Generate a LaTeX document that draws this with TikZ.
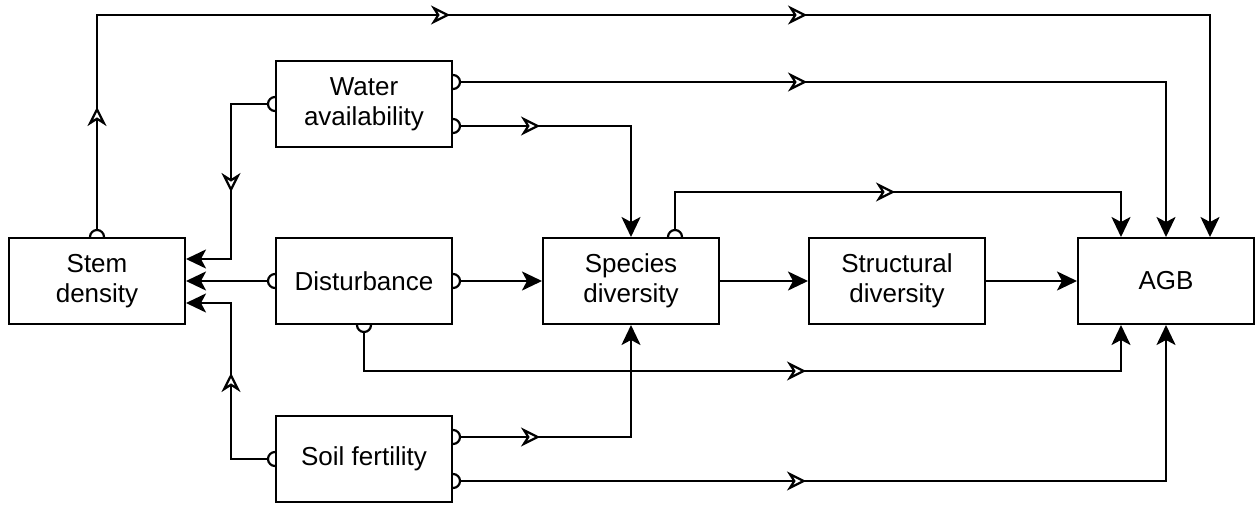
\documentclass[tikz,border=0pt]{standalone}
\usepackage{fontspec}
\setmainfont{Liberation Sans}
\usetikzlibrary{arrows.meta}
\begin{document}
\begin{tikzpicture}[x=1pt,y=-1pt,
  box/.style={draw,line width=2pt,minimum width=176pt,minimum height=86pt,align=center,
    font=\fontsize{26}{30}\selectfont,inner sep=0pt},
  conn/.style={line width=2.2pt,-{Stealth[length=20pt,width=19pt,inset=5pt]}},
  hc/.style={line width=2.2pt},
  oa/.style={line width=2.2pt,-{Stealth[open,fill=white,length=19pt,width=19pt,inset=6pt]}},
]
\useasboundingbox (0,0) rectangle (1260,506);
% nodes
\node[box] (sd)  at (97,281)  {Stem\\density};
\node[box] (wa)  at (364,104) {Water\\availability};
\node[box] (di)  at (364,281) {Disturbance};
\node[box] (sp)  at (631,281) {Species\\diversity};
\node[box] (st)  at (897,281) {Structural\\diversity};
\node[box] (agb) at (1166,281) {AGB};
\node[box] (sf)  at (364,459) {Soil fertility};
% start points (just outside the half circles)
\coordinate (s1) at (97,230);
\coordinate (s2) at (460,82);
\coordinate (s3) at (460,126);
\coordinate (s4) at (268,104);
\coordinate (s5) at (268,281);
\coordinate (s6) at (460,281);
\coordinate (s7) at (364,332);
\coordinate (s8) at (675,230);
\coordinate (s11) at (268,459);
\coordinate (s12) at (460,437);
\coordinate (s13) at (460,481);
% half circles
\draw[hc] (97,237) ++(7pt,0) arc[start angle=0,end angle=180,radius=7pt];
\draw[hc] (675,237) ++(7pt,0) arc[start angle=0,end angle=180,radius=7pt];
\draw[hc] (364,325) ++(-7pt,0) arc[start angle=180,end angle=360,radius=7pt];
\draw[hc] (453,82) ++(0,7pt) arc[start angle=90,end angle=-90,radius=7pt];
\draw[hc] (453,126) ++(0,7pt) arc[start angle=90,end angle=-90,radius=7pt];
\draw[hc] (453,281) ++(0,7pt) arc[start angle=90,end angle=-90,radius=7pt];
\draw[hc] (453,437) ++(0,7pt) arc[start angle=90,end angle=-90,radius=7pt];
\draw[hc] (453,481) ++(0,7pt) arc[start angle=90,end angle=-90,radius=7pt];
\draw[hc] (275,104) ++(0,7pt) arc[start angle=90,end angle=270,radius=7pt];
\draw[hc] (275,281) ++(0,7pt) arc[start angle=90,end angle=270,radius=7pt];
\draw[hc] (275,459) ++(0,7pt) arc[start angle=90,end angle=270,radius=7pt];
% connectors
\draw[conn] (s1) -- (97,15) -- (1210,15) -- (agb.north -| 1210,0);
\draw[conn] (s2) -- (1166,82) -- (agb.north);
\draw[conn] (s3) -- (631,126) -- (sp.north);
\draw[conn] (s4) -- (231,104) -- (231,259) -- (sd.east |- 0,259);
\draw[conn] (s5) -- (sd.east);
\draw[conn] (s6) -- (sp.west);
\draw[conn] (s7) -- (364,371) -- (1121,371) -- (agb.south -| 1121,0);
\draw[conn] (s8) -- (675,192) -- (1121,192) -- (agb.north -| 1121,0);
\draw[conn] (sp.east) -- (st.west);
\draw[conn] (st.east) -- (agb.west);
\draw[conn] (s11) -- (231,459) -- (231,303) -- (sd.east |- 0,303);
\draw[conn] (s12) -- (631,437) -- (sp.south);
\draw[conn] (s13) -- (1166,481) -- (agb.south);
% open arrowheads along the connectors
\draw[oa] (97,109) -- (97,107);
\draw[oa] (448,15) -- (450,15);
\draw[oa] (805,15) -- (807,15);
\draw[oa] (805,82) -- (807,82);
\draw[oa] (538,126) -- (540,126);
\draw[oa] (231,190) -- (231,192);
\draw[oa] (804,371) -- (806,371);
\draw[oa] (893,192) -- (895,192);
\draw[oa] (231,375) -- (231,373);
\draw[oa] (538,437) -- (540,437);
\draw[oa] (804,481) -- (806,481);
\end{tikzpicture}
\end{document}
